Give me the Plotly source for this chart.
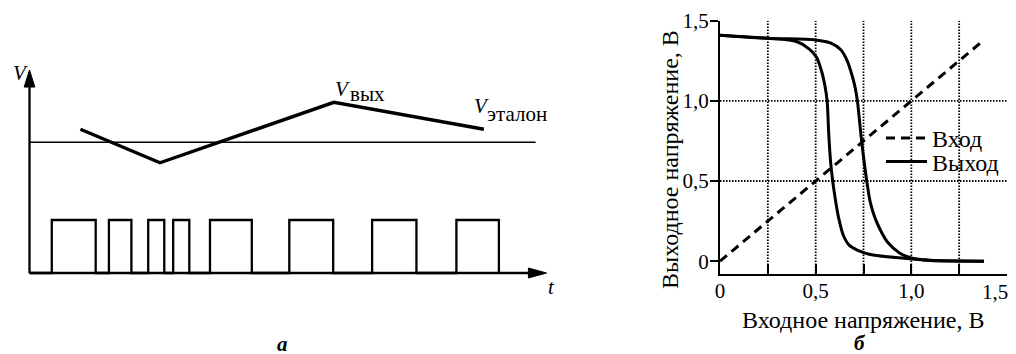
import plotly.graph_objects as go

# ---------------- panel (а): schematic ----------------
axis_t_max = 100.0          # tip of the t arrow
axis_v_max = 100.0          # tip of the V arrow
ref_level = 64.4            # V_эталон level
ref_end = 97.9
vout_t = [9.85, 25.24, 58.88, 87.89]
vout_v = [70.8, 54.3, 84.1, 70.8]
pulse_start = [4.31, 15.36, 22.96, 27.79, 34.91, 50.25, 66.27, 82.57]
pulse_end = [12.80, 19.71, 26.07, 30.91, 43.00, 58.74, 74.84, 90.79]
pulse_high = 26.1

# ---------------- panel (б): transfer curves ----------------
inp_x = [0.0, 1.37]
inp_y = [0.0, 1.37]
out_a_x = [0.00, 0.25, 0.40, 0.47, 0.505, 0.532, 0.549, 0.560, 0.568, 0.578, 0.589,
           0.601, 0.62, 0.645, 0.675, 0.72, 0.80, 0.98, 1.10, 1.38]
out_a_y = [1.41, 1.39, 1.37, 1.32, 1.27, 1.18, 1.09, 1.00, 0.80, 0.62, 0.50,
           0.40, 0.27, 0.16, 0.10, 0.068, 0.038, 0.017, 0.004, 0.0]
out_b_x = [0.00, 0.25, 0.50, 0.58, 0.63, 0.665, 0.69, 0.705, 0.718, 0.741, 0.767,
           0.785, 0.81, 0.84, 0.875, 0.94, 1.00, 1.10, 1.38]
out_b_y = [1.41, 1.39, 1.38, 1.36, 1.32, 1.25, 1.16, 1.09, 1.00, 0.74, 0.50,
           0.37, 0.27, 0.19, 0.12, 0.05, 0.02, 0.005, 0.0]
x_tickvals = [0, 0.25, 0.5, 0.75, 1.0, 1.25, 1.5]
x_ticktext = ['0', '', '0,5', '', '1,0', '', '']
x_last_label = '1,5'       # drawn separately so it stays inside the page edge
y_tickvals = [0, 0.5, 1.0, 1.5]
y_ticktext = ['0', '0,5', '1,0', '1,5']
grid_x = [0.25, 0.5, 0.75, 1.0, 1.25]
grid_y = [0.5, 1.0]
x_title = 'Входное напряжение, В'
y_title = 'Выходное напряжение, В'
legend_in = 'Вход'
legend_out = 'Выход'

FONT = '"Liberation Serif", Tinos, "Times New Roman", "DejaVu Serif", serif'
FS = 21       # tick labels, schematic labels
FS_T = 24     # axis titles and legend
W, H = 1016, 354
OX, OY = 8, 8   # page offset of the figure inside the browser window


def px(x):
    return (x - OX) / W


def py(y):
    return 1 - (y - OY) / H


fig = go.Figure()

# pulse train built from pulse edges
p_t, p_v = [0.0], [0.0]
for s, e in zip(pulse_start, pulse_end):
    p_t += [s, s, e, e]
    p_v += [0.0, pulse_high, pulse_high, 0.0]

fig.add_trace(go.Scatter(x=p_t, y=p_v, mode='lines', xaxis='x2', yaxis='y2',
                         line=dict(color='black', width=2.3), showlegend=False,
                         hoverinfo='skip'))
fig.add_trace(go.Scatter(x=[0, ref_end], y=[ref_level, ref_level], mode='lines',
                         xaxis='x2', yaxis='y2', line=dict(color='black', width=1.7),
                         showlegend=False, hoverinfo='skip'))
fig.add_trace(go.Scatter(x=vout_t, y=vout_v, mode='lines', xaxis='x2', yaxis='y2',
                         line=dict(color='black', width=3.4), showlegend=False,
                         hoverinfo='skip'))

# right panel traces
fig.add_trace(go.Scatter(x=inp_x, y=inp_y, mode='lines', name=legend_in,
                         legend='legend',
                         line=dict(color='black', width=3, dash='9px,6px')))
fig.add_trace(go.Scatter(x=out_a_x, y=out_a_y, mode='lines', name=legend_out,
                         legendgroup='out', legend='legend2',
                         line=dict(color='black', width=3, shape='spline', smoothing=0.8)))
fig.add_trace(go.Scatter(x=out_b_x, y=out_b_y, mode='lines', name=legend_out,
                         legendgroup='out', legend='legend2', showlegend=False,
                         line=dict(color='black', width=3, shape='spline', smoothing=0.8)))

grid_line = dict(color='black', width=1.8, dash='1.5px,1.5px')
shapes = []
# grid lines (right panel)
for gx in grid_x:
    shapes.append(dict(type='line', xref='x', yref='y', x0=gx, x1=gx, y0=-0.08, y1=1.5,
                       layer='below', line=grid_line))
for gy in grid_y:
    shapes.append(dict(type='line', xref='x', yref='y', x0=0, x1=1.5, y0=gy, y1=gy,
                       layer='below', line=grid_line))

# axes with arrows (left panel)
ah_v_len, ah_v_half = 8.4, 1.03
ah_t_len, ah_t_half = 3.5, 2.46
shapes.append(dict(type='line', xref='x2', yref='y2', x0=0, y0=0, x1=0,
                   y1=axis_v_max - ah_v_len, line=dict(color='black', width=2.3)))
shapes.append(dict(type='line', xref='x2', yref='y2', x0=0, y0=0,
                   x1=axis_t_max - ah_t_len, y1=0, line=dict(color='black', width=2.3)))
shapes.append(dict(type='path', xref='x2', yref='y2',
                   path=f'M {-ah_v_half},{axis_v_max - ah_v_len} L 0,{axis_v_max} '
                        f'L {ah_v_half},{axis_v_max - ah_v_len} Z',
                   fillcolor='black', line=dict(color='black', width=1)))
shapes.append(dict(type='path', xref='x2', yref='y2',
                   path=f'M {axis_t_max - ah_t_len},{-ah_t_half} L {axis_t_max},0 '
                        f'L {axis_t_max - ah_t_len},{ah_t_half} Z',
                   fillcolor='black', line=dict(color='black', width=1)))

font = dict(family=FONT, size=FS, color='black')
font_t = dict(family=FONT, size=FS_T, color='black')
ann = []


def add_ann(**kw):
    kw.setdefault('xanchor', 'center')
    kw.setdefault('yanchor', 'middle')
    kw.setdefault('showarrow', False)
    kw.setdefault('font', font)
    ann.append(kw)


# left panel labels
add_ann(xref='x2', yref='y2', x=-1.74, y=98.5, text='<i>V</i>')
add_ann(xref='x2', yref='y2', x=101.06, y=-6.9, text='<i>t</i>')
add_ann(xref='x2', yref='y2', x=58.76, y=90.6, text='<i>V</i>', xanchor='left')
add_ann(xref='x2', yref='y2', x=61.66, y=88.2, text='вых', xanchor='left')
add_ann(xref='x2', yref='y2', x=85.53, y=82.3, text='<i>V</i>', xanchor='left')
add_ann(xref='x2', yref='y2', x=88.1, y=78.1, text='эталон', xanchor='left')
add_ann(xref='paper', yref='paper', x=px(282), y=py(344), text='<b><i>а</i></b>')
# right panel labels
add_ann(xref='x', yref='paper', x=x_tickvals[-1], xshift=-12, y=py(292),
        text=x_last_label)
add_ann(xref='paper', yref='paper', x=px(670), y=py(160), text=y_title,
        textangle=-90, font=font_t)
add_ann(xref='paper', yref='paper', x=px(863), y=py(320), text=x_title, font=font_t)
add_ann(xref='paper', yref='paper', x=px(860), y=py(343), text='<b><i>б</i></b>')

legend_common = dict(xanchor='left', yanchor='middle', bgcolor='rgba(0,0,0,0)',
                     font=font_t, itemwidth=41, borderwidth=0)

fig.update_layout(
    width=W, height=H,
    margin=dict(l=0, r=0, t=0, b=0, pad=0, autoexpand=False),
    paper_bgcolor='white', plot_bgcolor='white',
    font=font,
    shapes=shapes,
    annotations=ann,
    showlegend=True,
    legend=dict(x=px(881), y=py(138.5), **legend_common),
    legend2=dict(x=px(881), y=py(162), **legend_common),
    xaxis=dict(domain=[px(720), px(1007)], range=[0, 1.5], showgrid=False,
               zeroline=False, showline=True, linecolor='black', linewidth=2,
               tickmode='array', tickvals=x_tickvals, ticktext=x_ticktext,
               ticks='inside', ticklen=10, tickwidth=1.5, tickcolor='black',
               anchor='y', automargin=False, ticklabelstandoff=-3,
               ticklabeloverflow='allow'),
    yaxis=dict(domain=[py(274), py(20.7)], range=[-0.08, 1.5], showgrid=False,
               zeroline=False, showline=True, linecolor='black', linewidth=2,
               tickmode='array', tickvals=y_tickvals, ticktext=y_ticktext,
               ticks='outside', ticklen=8, tickwidth=2, tickcolor='black',
               anchor='x', automargin=False, ticklabelstandoff=-3,
               ticklabeloverflow='allow'),
    xaxis2=dict(domain=[px(10), px(560)], range=[-3.772, 102.61], visible=False,
                anchor='y2'),
    yaxis2=dict(domain=[py(290), py(60)], range=[-8.374, 104.93], visible=False,
                anchor='x2'),
)

fig.write_html('out.html')
